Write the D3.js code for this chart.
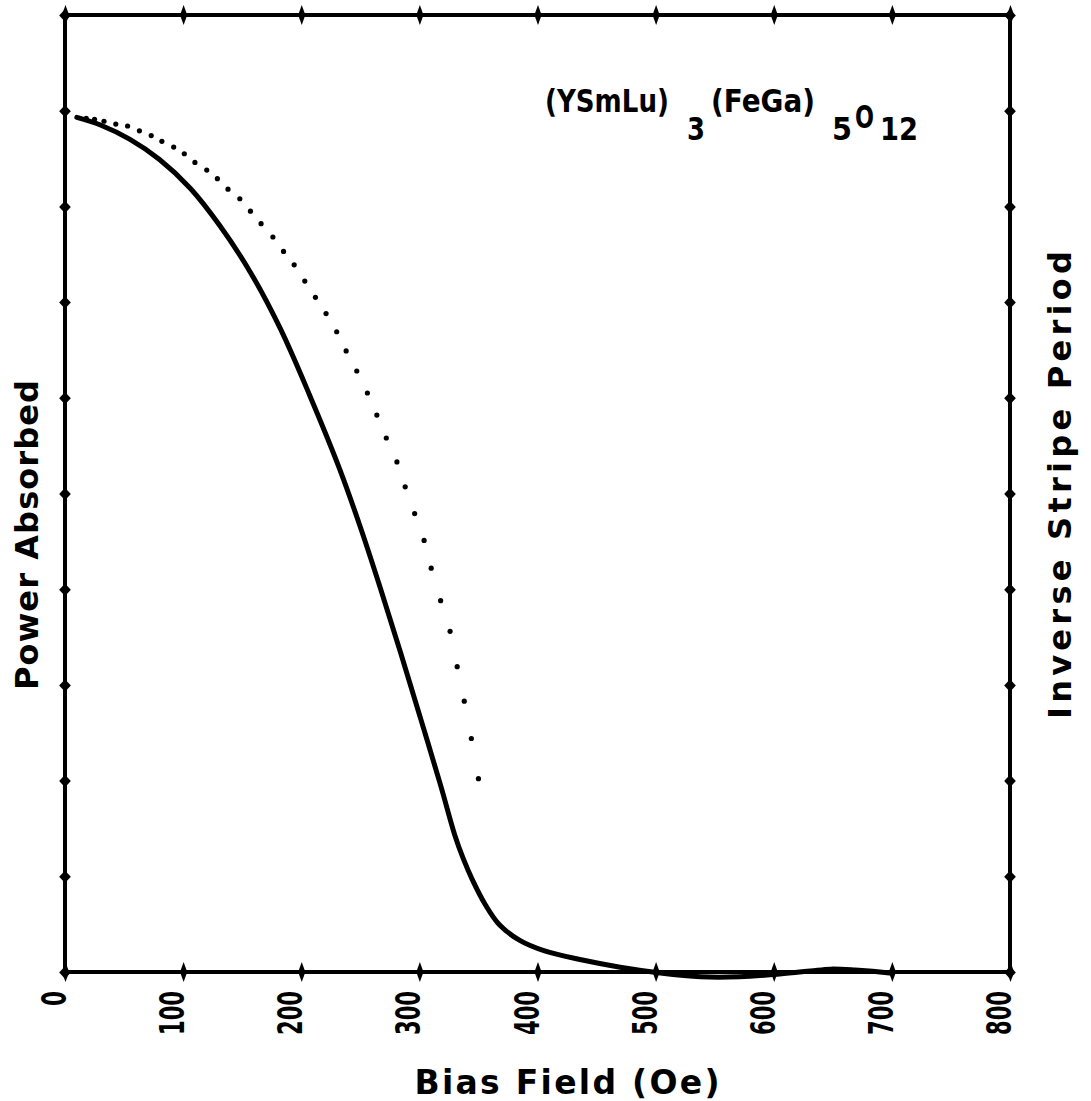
<!DOCTYPE html>
<html>
<head>
<meta charset="utf-8">
<script src="https://cdn.jsdelivr.net/npm/d3@7"></script>
<style>
  html, body { margin: 0; padding: 0; background: #fff; }
  svg { display: block; }
  text { font-family: "DejaVu Sans", sans-serif; fill: #000; }
</style>
</head>
<body>
<svg id="chart" width="1091" height="1101"></svg>
<script>
// ---- data ----
const xTickValues = [0, 100, 200, 300, 400, 500, 600, 700, 800];
const xTickLabels = ["0", "100", "200", "300", "400", "500", "600", "700", "800"];
const yTickValues = [0, 1, 2, 3, 4, 5, 6, 7, 8, 9, 10];

// Solid curve: power absorbed vs bias field (Oe)
const solidField = [10, 30, 55, 80, 106, 131, 157, 182, 207, 233, 250, 267, 284, 301, 318, 330, 337, 345, 356, 368, 385, 406, 436, 470, 504, 538, 571, 605, 631, 648, 669, 698];
const solidValue = [8.93, 8.85, 8.70, 8.49, 8.19, 7.80, 7.31, 6.73, 6.03, 5.24, 4.65, 4.01, 3.34, 2.65, 1.95, 1.43, 1.19, 0.96, 0.70, 0.49, 0.33, 0.22, 0.13, 0.05, -0.01, -0.05, -0.05, -0.02, 0.01, 0.03, 0.02, -0.01];

// Dotted points: inverse stripe period vs bias field (Oe)
const dotField = [18, 25, 33, 43, 53, 63, 73, 82, 92, 101, 110, 120, 129, 138, 148, 157, 166, 176, 185, 194, 203, 212, 221, 230, 238, 247, 256, 264, 272, 281, 288, 296, 304, 310, 318, 326, 332, 338, 344, 350];
const dotValue = [8.92, 8.91, 8.89, 8.86, 8.84, 8.79, 8.74, 8.68, 8.62, 8.55, 8.46, 8.38, 8.29, 8.18, 8.08, 7.95, 7.82, 7.68, 7.53, 7.39, 7.22, 7.05, 6.88, 6.69, 6.49, 6.28, 6.05, 5.82, 5.58, 5.33, 5.07, 4.79, 4.51, 4.22, 3.88, 3.56, 3.19, 2.83, 2.44, 2.02];

const xTitle = "Bias Field (Oe)";
const yLeftTitle = "Power Absorbed";
const yRightTitle = "Inverse Stripe Period";
// formula pieces and their vertical role
const formulaParts = ["(YSmLu)", "3", "(FeGa)", "5", "O", "12"];
const formulaKinds = ["main", "sub", "main", "sub", "mid", "sub"];

// ---- layout ----
const svg = d3.select("#chart");
const L = 65, R = 1010, T = 15, B = 972;

const x = d3.scaleLinear().domain([0, 800]).range([L, R]);
const y = d3.scaleLinear().domain([0, 10]).range([B, T]);

// frame
svg.append("rect")
  .attr("x", L).attr("y", T).attr("width", R - L).attr("height", B - T)
  .attr("fill", "none").attr("stroke", "#000").attr("stroke-width", 4);

function crossTicks(g) {
  g.select(".domain").remove();
  g.selectAll(".tick line").remove();
}
const diamond = d3.symbol().type(d3.symbolDiamond).size(70);

const bottomAxis = svg.append("g").attr("transform", `translate(0,${B})`)
  .call(d3.axisBottom(x).tickValues(xTickValues).tickFormat(() => "").tickSize(0))
  .call(crossTicks);
bottomAxis.selectAll(".tick").append("path").attr("d", diamond).attr("fill", "#000")
  .attr("transform", "scale(0.8,1.3)");

const topAxis = svg.append("g").attr("transform", `translate(0,${T})`)
  .call(d3.axisTop(x).tickValues(xTickValues).tickFormat(() => "").tickSize(0))
  .call(crossTicks);
topAxis.selectAll(".tick").append("path").attr("d", diamond).attr("fill", "#000")
  .attr("transform", "scale(0.8,1.3)");

const leftAxis = svg.append("g").attr("transform", `translate(${L},0)`)
  .call(d3.axisLeft(y).tickValues(yTickValues).tickFormat(() => "").tickSize(0))
  .call(crossTicks);
leftAxis.selectAll(".tick").append("path").attr("d", diamond).attr("fill", "#000")
  .attr("transform", "scale(1.3,0.8)");

const rightAxis = svg.append("g").attr("transform", `translate(${R},0)`)
  .call(d3.axisRight(y).tickValues(yTickValues).tickFormat(() => "").tickSize(0))
  .call(crossTicks);
rightAxis.selectAll(".tick").append("path").attr("d", diamond).attr("fill", "#000")
  .attr("transform", "scale(1.3,0.8)");

// x tick labels (rotated, reading upward)
svg.append("g").selectAll("text")
  .data(xTickValues)
  .join("text")
  .attr("transform", d => `translate(${x(d) + 1},${991}) rotate(-90)`)
  .attr("text-anchor", "end")
  .attr("font-size", 34)
  .attr("font-weight", "bold")
  .attr("textLength", (d, i) => xTickLabels[i].length === 1 ? 15 : 44)
  .attr("lengthAdjust", "spacingAndGlyphs")
  .text((d, i) => xTickLabels[i]);

// axis titles
svg.append("text")
  .attr("x", 567).attr("y", 1094)
  .attr("text-anchor", "middle")
  .attr("font-size", 33)
  .attr("font-weight", "bold")
  .attr("textLength", 305)
  .attr("lengthAdjust", "spacing")
  .text(xTitle);

svg.append("text")
  .attr("transform", "translate(38,535) rotate(-90)")
  .attr("text-anchor", "middle")
  .attr("font-size", 32)
  .attr("font-weight", "bold")
  .attr("textLength", 310)
  .attr("lengthAdjust", "spacing")
  .text(yLeftTitle);

svg.append("text")
  .attr("transform", "translate(1071,485) rotate(-90)")
  .attr("text-anchor", "middle")
  .attr("font-size", 32)
  .attr("font-weight", "bold")
  .attr("textLength", 468)
  .attr("lengthAdjust", "spacing")
  .text(yRightTitle);

// formula label, each piece placed as its own text and horizontally squeezed to fit
const fx = [545, 687, 711, 832, 855, 880];
const fLen = [124, 18, 104, 20, 19, 38];
const baseY = { main: 112, sub: 140, mid: 128 };
svg.append("g").selectAll("text")
  .data(formulaParts)
  .join("text")
  .attr("font-size", 32)
  .attr("font-weight", "bold")
  .text(d => d)
  .each(function(d, i) {
    const w = this.getComputedTextLength();
    const s = fLen[i] / w;
    d3.select(this).attr("transform",
      `translate(${fx[i]},${baseY[formulaKinds[i]]}) scale(${s},1)`);
  });

// solid curve
const solidData = solidField.map((f, i) => [f, solidValue[i]]);
svg.append("path")
  .datum(solidData)
  .attr("fill", "none")
  .attr("stroke", "#000")
  .attr("stroke-width", 5)
  .attr("stroke-linecap", "round")
  .attr("stroke-linejoin", "round")
  .attr("d", d3.line().x(d => x(d[0])).y(d => y(d[1])).curve(d3.curveCatmullRom.alpha(0.5)));

// dotted points
const dotData = dotField.map((f, i) => [f, dotValue[i]]);
svg.append("g").selectAll("circle")
  .data(dotData)
  .join("circle")
  .attr("cx", d => x(d[0]))
  .attr("cy", d => y(d[1]))
  .attr("r", 2.6)
  .attr("fill", "#000");
</script>
</body>
</html>
